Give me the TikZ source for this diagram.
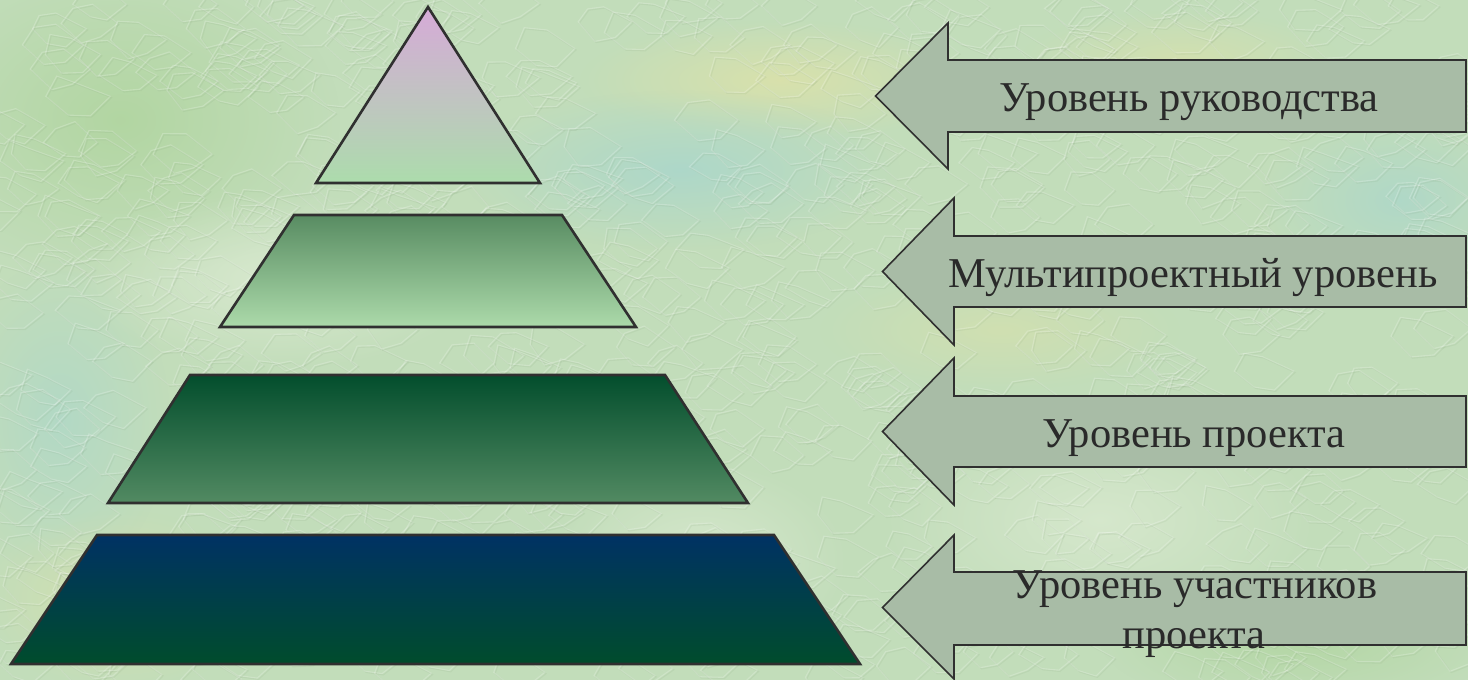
\documentclass[tikz,border=0pt]{standalone}
\usepackage{fontspec}
\setmainfont{Liberation Serif}
\usetikzlibrary{fadings}
\tikzfading[name=softblob, inner color=transparent!0, outer color=transparent!100]
\definecolor{bgbase}{RGB}{194,221,186}
\definecolor{bgyellow}{RGB}{222,226,168}
\definecolor{bgcyan}{RGB}{168,214,205}
\definecolor{bggreen}{RGB}{174,212,156}
\definecolor{bglight}{RGB}{222,236,212}
\definecolor{bgshadow}{RGB}{120,150,110}
\definecolor{edgecol}{RGB}{48,48,48}
\definecolor{arrowfill}{RGB}{168,188,166}
\definecolor{txtcol}{RGB}{42,42,42}
\definecolor{triTop}{RGB}{214,170,216}
\definecolor{triBot}{RGB}{172,220,172}
\definecolor{trapAtop}{RGB}{88,140,98}
\definecolor{trapAbot}{RGB}{172,218,170}
\definecolor{trapBtop}{RGB}{3,78,45}
\definecolor{trapBbot}{RGB}{82,138,98}
\definecolor{trapCtop}{RGB}{0,50,100}
\definecolor{trapCbot}{RGB}{0,76,44}
\tikzset{
  layer/.style={draw=edgecol, line width=2.6pt, line join=miter},
  lvlarrow/.style={draw=edgecol, fill=arrowfill, line width=1.6pt, line join=miter},
  lvltext/.style={text=txtcol, inner sep=0pt, anchor=base, font=\fontsize{42.5}{50}\selectfont},
  blob/.style={path fading=softblob},
}
\begin{document}
\begin{tikzpicture}[x=1pt,y=-1pt]
\useasboundingbox (0,0) rectangle (1468,680);
% background
\fill[bgbase] (0,0) rectangle (1468,680);
\fill[bggreen, blob, opacity=0.8] (120,120) ellipse (220pt and 160pt);
\fill[bgyellow, blob, opacity=0.8] (780,80) ellipse (200pt and 60pt);
\fill[bgyellow, blob, opacity=0.6] (1180,60) ellipse (160pt and 50pt);
\fill[bgcyan, blob, opacity=0.8] (680,170) ellipse (220pt and 80pt);
\fill[bgcyan, blob, opacity=0.7] (1400,200) ellipse (140pt and 90pt);
\fill[bgcyan, blob, opacity=0.6] (60,420) ellipse (110pt and 160pt);
\fill[bglight, blob, opacity=0.8] (280,280) ellipse (200pt and 90pt);
\fill[bgyellow, blob, opacity=0.6] (120,600) ellipse (140pt and 90pt);
\fill[bglight, blob, opacity=0.7] (1100,520) ellipse (220pt and 120pt);
\fill[bggreen, blob, opacity=0.7] (1300,640) ellipse (200pt and 70pt);
\fill[bgyellow, blob, opacity=0.5] (1000,330) ellipse (180pt and 60pt);
\fill[bglight, blob, opacity=0.7] (700,560) ellipse (150pt and 100pt);
% stucco texture
\pgfmathsetseed{4242}
\foreach \i in {1,...,800}{
  \pgfmathsetmacro{\cx}{rnd*1468}
  \pgfmathsetmacro{\cy}{rnd*680}
  \pgfmathsetmacro{\ra}{14+10*rnd}
  \pgfmathsetmacro{\rb}{14+10*rnd}
  \pgfmathsetmacro{\rc}{14+10*rnd}
  \pgfmathsetmacro{\rd}{14+10*rnd}
  \pgfmathsetmacro{\re}{14+10*rnd}
  \pgfmathsetmacro{\rf}{14+10*rnd}
  \draw[bgshadow, opacity=0.10, line width=1.1pt, shift={(1.3,1.3)}]
    (\cx+\ra,\cy) -- ++(-0.5*\ra-0.5*\rb,0.87*\rb) -- ++(-0.5*\rb-0.5*\rc,0.87*\rc-0.87*\rb)
    -- ++(-0.5*\rc-\rd+0.5*\rc,-0.87*\rc) -- ++(\rd-0.5*\re,-0.87*\re) -- ++(0.5*\re+0.5*\rf,0.87*\re-0.87*\rf) -- cycle;
  \draw[white, opacity=0.20, line width=1.1pt]
    (\cx+\ra,\cy) -- ++(-0.5*\ra-0.5*\rb,0.87*\rb) -- ++(-0.5*\rb-0.5*\rc,0.87*\rc-0.87*\rb)
    -- ++(-0.5*\rc-\rd+0.5*\rc,-0.87*\rc) -- ++(\rd-0.5*\re,-0.87*\re) -- ++(0.5*\re+0.5*\rf,0.87*\re-0.87*\rf) -- cycle;
}
% pyramid
\path[layer, top color=triTop, bottom color=triBot] (428,7) -- (540,183) -- (316,183) -- cycle;
\path[layer, top color=trapAtop, bottom color=trapAbot] (294,215) -- (562,215) -- (636,327) -- (220,327) -- cycle;
\path[layer, top color=trapBtop, bottom color=trapBbot] (190,375) -- (665,375) -- (748,503) -- (108,503) -- cycle;
\path[layer, top color=trapCtop, bottom color=trapCbot] (97,535) -- (774,535) -- (860,664) -- (11,664) -- cycle;
% arrows
\draw[lvlarrow] (875.5,96) -- (948,23) -- (948,60) -- (1466,60) -- (1466,132) -- (948,132) -- (948,169) -- cycle;
\draw[lvlarrow] (882.5,271.5) -- (954,198) -- (954,236) -- (1466,236) -- (1466,307) -- (954,307) -- (954,345) -- cycle;
\draw[lvlarrow] (882.5,431.5) -- (954,358) -- (954,396) -- (1466,396) -- (1466,467) -- (954,467) -- (954,505) -- cycle;
\draw[lvlarrow] (882.5,607.5) -- (954,535) -- (954,572) -- (1466,572) -- (1466,645) -- (954,645) -- (954,679) -- cycle;
% texts
\node[lvltext] (t1) at (1189,111) {Уровень руководства};
\node[lvltext] (t2) at (1193,287) {Мультипроектный уровень};
\node[lvltext] (t3) at (1194,447) {Уровень проекта};
\node[lvltext] (t4a) at (1195,598) {Уровень участников};
\node[lvltext] (t4b) at (1194,648) {проекта};
\end{tikzpicture}
\end{document}
